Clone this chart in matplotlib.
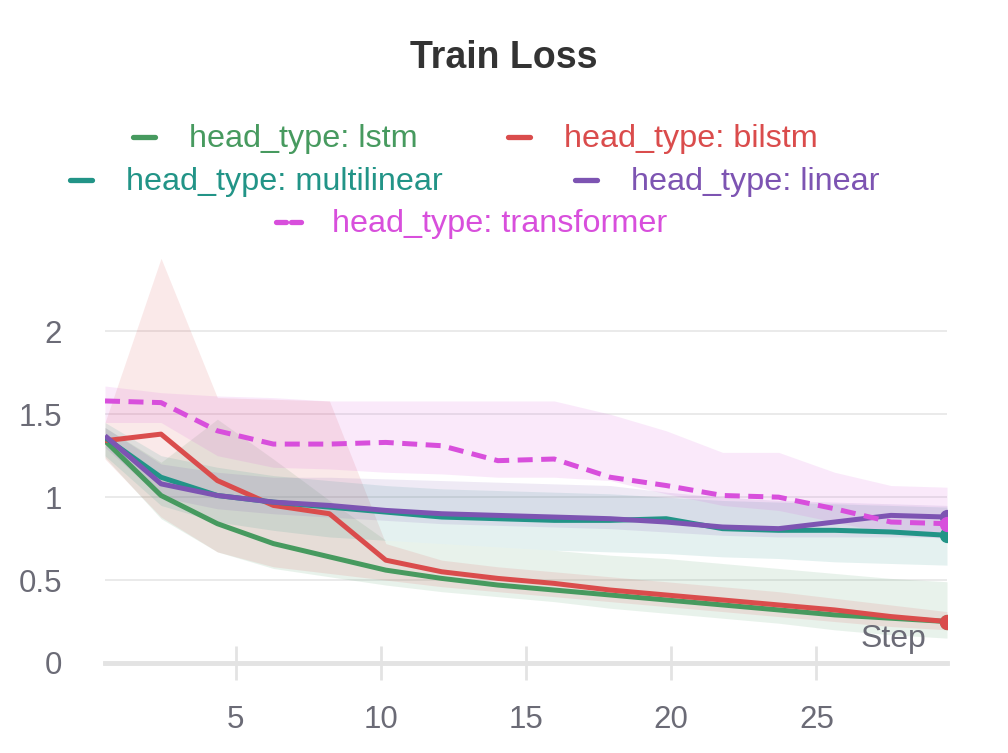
import matplotlib.pyplot as plt
from matplotlib.lines import Line2D

plt.rcParams['font.family'] = ['Liberation Sans', 'DejaVu Sans']

# steps of the bucketed points
steps = [0.5, 2.43, 4.37, 6.3, 8.23, 10.17, 12.1, 14.03, 15.97, 17.9, 19.83, 21.77, 23.7, 25.63, 27.57, 29.5]

# mean lines
lstm = [1.34, 1.01, 0.84, 0.72, 0.64, 0.56, 0.51, 0.47, 0.44, 0.41, 0.38, 0.35, 0.32, 0.29, 0.27, 0.25]
bilstm = [1.34, 1.38, 1.10, 0.95, 0.90, 0.62, 0.55, 0.51, 0.48, 0.44, 0.41, 0.38, 0.35, 0.32, 0.28, 0.25]
multilinear = [1.36, 1.12, 1.01, 0.97, 0.94, 0.91, 0.88, 0.87, 0.86, 0.86, 0.87, 0.81, 0.80, 0.80, 0.79, 0.77]
linear = [1.37, 1.08, 1.01, 0.97, 0.95, 0.92, 0.90, 0.89, 0.88, 0.87, 0.85, 0.82, 0.81, 0.85, 0.89, 0.88]
transformer = [1.58, 1.57, 1.40, 1.32, 1.32, 1.33, 1.31, 1.22, 1.23, 1.12, 1.07, 1.01, 1.00, 0.93, 0.85, 0.84]

# min / max bands
lstm_hi = [1.42, 1.21, 1.47, 1.23, 0.98, 0.74, 0.72, 0.70, 0.68, 0.65, 0.63, 0.60, 0.57, 0.54, 0.51, 0.49]
lstm_lo = [1.24, 0.87, 0.67, 0.57, 0.52, 0.47, 0.43, 0.40, 0.37, 0.33, 0.30, 0.27, 0.24, 0.20, 0.17, 0.15]
bilstm_hi = [1.45, 2.44, 1.60, 1.59, 1.58, 0.72, 0.62, 0.58, 0.55, 0.52, 0.49, 0.46, 0.43, 0.39, 0.35, 0.31]
bilstm_lo = [1.23, 0.88, 0.67, 0.58, 0.54, 0.50, 0.46, 0.43, 0.40, 0.37, 0.34, 0.31, 0.28, 0.25, 0.22, 0.20]
multilinear_hi = [1.45, 1.25, 1.18, 1.13, 1.10, 1.07, 1.05, 1.04, 1.03, 1.02, 1.00, 0.98, 0.97, 0.96, 0.95, 0.94]
multilinear_lo = [1.25, 0.95, 0.85, 0.80, 0.76, 0.74, 0.72, 0.70, 0.68, 0.67, 0.66, 0.64, 0.63, 0.61, 0.60, 0.59]
linear_hi = [1.42, 1.20, 1.15, 1.12, 1.12, 1.11, 1.10, 1.09, 1.08, 1.07, 1.03, 1.00, 0.98, 0.97, 0.96, 0.95]
linear_lo = [1.30, 1.00, 0.93, 0.90, 0.88, 0.86, 0.84, 0.83, 0.82, 0.81, 0.79, 0.77, 0.76, 0.76, 0.76, 0.76]
transformer_hi = [1.67, 1.63, 1.61, 1.60, 1.58, 1.58, 1.58, 1.58, 1.58, 1.50, 1.40, 1.27, 1.27, 1.15, 1.07, 1.06]
transformer_lo = [1.45, 1.45, 1.25, 1.18, 1.17, 1.15, 1.14, 1.12, 1.12, 1.10, 1.02, 0.95, 0.92, 0.85, 0.78, 0.75]

labels = ['head_type: lstm', 'head_type: bilstm', 'head_type: multilinear',
          'head_type: linear', 'head_type: transformer']
colors = ['#479a5f', '#da4c4c', '#229487', '#7d54b2', '#d84fdc']
means = [lstm, bilstm, multilinear, linear, transformer]
highs = [lstm_hi, bilstm_hi, multilinear_hi, linear_hi, transformer_hi]
lows = [lstm_lo, bilstm_lo, multilinear_lo, linear_lo, transformer_lo]
dashed = [False, False, False, False, True]

W, H = 1008, 753
fig = plt.figure(figsize=(W / 100, H / 100), dpi=100)
ax = fig.add_axes([105 / W, 1 - 663 / H, (947 - 105) / W, (663 - 255) / H])

# ------------ bands then lines ------------
for lo, hi, c in zip(lows, highs, colors):
    ax.fill_between(steps, lo, hi, color=c, alpha=0.12, lw=0)

for y, c, d in zip(means, colors, dashed):
    ls = (0, (3, 1.7)) if d else '-'
    ax.plot(steps, y, color=c, lw=3.6, ls=ls, solid_capstyle='butt', zorder=3)
    ax.plot(steps[-1], y[-1], 'o', color=c, ms=10, zorder=4)

ax.set_xlim(steps[0], steps[-1])
ax.set_ylim(0, 2.46)

# ------------ axes styling ------------
for s in ['top', 'right', 'left']:
    ax.spines[s].set_visible(False)
ax.spines['bottom'].set_color('#e3e3e3')
ax.spines['bottom'].set_linewidth(3.5)

ax.set_yticks([0, 0.5, 1, 1.5, 2])
ax.set_yticklabels(['0', '0.5', '1', '1.5', '2'])
ax.set_xticks([5, 10, 15, 20, 25])
ax.tick_params(axis='y', length=0, pad=31, labelsize=22.5, labelcolor='#6b6b76')
ax.tick_params(axis='x', direction='inout', length=25, width=2, color='#e3e3e3',
               pad=18, labelsize=22.5, labelcolor='#6b6b76')
for g in [0.5, 1, 1.5, 2]:
    ax.axhline(g, color='#e8e8e8', lw=1.3, zorder=0)

ax.text(0.975, 0.038, 'Step', transform=ax.transAxes, ha='right', va='baseline',
        fontsize=23, color='#6b6b76')

fig.text(504 / W, 1 - 58 / H, 'Train Loss', ha='center', va='center',
         fontsize=27, fontweight='bold', color='#333333')

# ------------ legend laid out like the web panel ------------
leg_pos = [(133, 139), (508, 139), (70, 182), (575, 182), (276, 224)]
for (px, py), lab, c, d in zip(leg_pos, labels, colors, dashed):
    if d:
        segs = [(px, px + 10), (px + 15, px + 25)]
    else:
        segs = [(px, px + 22)]
    for a, b in segs:
        fig.add_artist(Line2D([a / W, b / W], [1 - (py - 2) / H, 1 - (py - 2) / H], color=c, lw=3.8,
                              solid_capstyle='round', transform=fig.transFigure))
    fig.text((px + 56) / W, 1 - py / H, lab, ha='left', va='center', fontsize=23.3, color=c)

fig.savefig('out.png', dpi=100)
